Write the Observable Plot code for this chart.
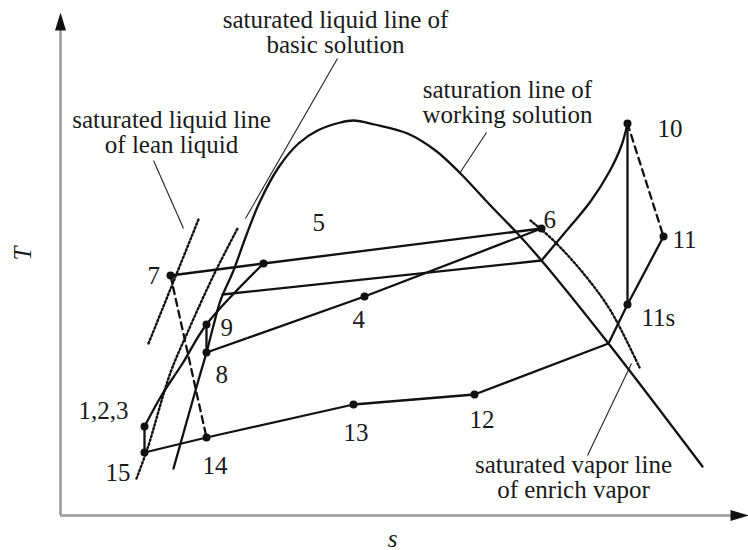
<!DOCTYPE html>
<html>
<head>
<meta charset="utf-8">
<script src="https://cdn.jsdelivr.net/npm/d3@7"></script>
<script src="https://cdn.jsdelivr.net/npm/@observablehq/plot@0.6"></script>
<style>
  html, body { margin: 0; padding: 0; background: #fff; }
  #chart { width: 748px; height: 550px; }
  #chart svg, #chart svg text { font-family: "Liberation Serif", "Times New Roman", serif; }
</style>
</head>
<body>
<div id="chart"></div>
<script>
// T–s diagram of the absorption power cycle (schematic units of entropy s and temperature T).

// State points [s, T]
const p123 = [84, 89];
const p4 = [304, 219];
const p6 = [481, 287];
const p7 = [110, 240];
const p8 = [146, 163];
const p9 = [146, 191];
const p10 = [567, 392];
const p11 = [603, 279];
const p11s = [567, 211];
const p12 = [414, 121];
const p13 = [293, 111];
const p14 = [146, 78];
const p15 = [84, 63];
const pMix = [203, 252];          // mixing point on the 7–6 line
const pCondExit = [548, 172];     // 11 → 12 line meets the saturation line
const pEvapEnd = [481, 255];      // heating line meets the saturation line
const pEvapStart = [162, 221];

const dotPoints = [p123, p4, p6, p7, p8, p9, p10, p11, p11s, p12, p13, p14, p15, pMix];

// Saturation line of working solution
const saturationDome = [
  [113, 47], [137, 132], [146, 163], [153, 190], [160, 215], [173, 245], [185, 278],
  [199, 313], [218, 348], [238, 372], [257, 385], [280, 393], [293, 395], [314, 391],
  [347, 382], [375, 365], [399, 343], [430, 310], [457, 282], [481, 255], [548, 172], [642, 49]
];
// Saturated liquid line of basic solution
const basicLiquidLine = [[76, 37], [87, 67], [110, 143], [127, 183], [153, 240], [177, 287]];
// Saturated liquid line of lean liquid
const leanLiquidLine = [[88, 172], [138, 296]];
// Saturated vapor line of enrich vapor
const enrichVaporLine = [[470, 295], [493, 275], [523, 242], [550, 205], [579, 148]];
// Superheating from the saturation line up to 10
const superheatLine = [pEvapEnd, [502, 280], [530, 314], [549, 344], [561, 370], p10];
// Basic solution heating 1,2,3 → 9 → mixing point
const basicHeating = [p123, [101, 120], [122, 152], p9, pMix];

const solidPaths = [
  [p7, pMix, p6],
  [p8, p4, p6],
  [p10, p11s],
  [p11, p11s, pCondExit, p12, p13, p14, p15, p123],
  [p9, p8],
  [pEvapStart, pEvapEnd]
];
const dashedPaths = [[p7, p14], [p10, p11]];

// Annotation leaders: [s1, T1, s2, T2]
const leaders = [
  [93, 355, 123, 287],
  [277, 457, 185, 297],
  [426, 383, 399, 342],
  [571, 152, 527, 60]
];

const curveNotes = [
  {text: "saturated liquid line of\nbasic solution", s: 275, T: 463},
  {text: "saturated liquid line\nof lean liquid", s: 111, T: 363},
  {text: "saturation line of\nworking solution", s: 447, T: 393},
  {text: "saturated vapor line\nof enrich vapor", s: 513, T: 18}
];

const pointLabels = [
  {text: "10", s: 597, T: 379},
  {text: "11", s: 612, T: 268},
  {text: "6", s: 483, T: 288},
  {text: "11s", s: 581, T: 190},
  {text: "5", s: 252, T: 285},
  {text: "4", s: 292, T: 188},
  {text: "7", s: 87, T: 232},
  {text: "9", s: 160, T: 180},
  {text: "8", s: 155, T: 133},
  {text: "1,2,3", s: 18, T: 97},
  {text: "15", s: 45, T: 35},
  {text: "14", s: 142, T: 42},
  {text: "13", s: 283, T: 75},
  {text: "12", s: 409, T: 88}
];

const axisLabels = [
  {text: "T", s: -38, T: 262, rotate: -90},
  {text: "s", s: 332, T: -23, rotate: 0}
];

const ink = "#111";
const serif = "Liberation Serif, Times New Roman, serif";

// Filled arrowhead with its tip at the anchor point, pointing up
const arrowHead = {
  draw(context) {
    context.moveTo(0, 0);
    context.lineTo(-5.5, 18);
    context.lineTo(5.5, 18);
    context.closePath();
  }
};

const xy = {x: (d) => d[0], y: (d) => d[1]};
const dotted = {stroke: ink, strokeWidth: 2.4, strokeDasharray: "1.6,2.4"};

const chart = Plot.plot({
  width: 748,
  height: 550,
  marginLeft: 60,
  marginRight: 0,
  marginTop: 12,
  marginBottom: 35,
  x: {domain: [0, 688], axis: null},
  y: {domain: [0, 503], axis: null},
  style: {background: "#fff", overflow: "visible"},
  marks: [
    // axes
    Plot.ruleX([0], {y1: 0, y2: 490, stroke: "#999", strokeWidth: 2.5}),
    Plot.ruleY([0], {x1: 0, x2: 676, stroke: "#999", strokeWidth: 2.5}),
    Plot.dot([[0, 503]], {...xy, symbol: arrowHead, fill: ink, stroke: "none"}),
    Plot.dot([[688, 0]], {...xy, symbol: arrowHead, fill: ink, stroke: "none", rotate: 90}),

    // leaders
    Plot.link(leaders, {x1: (d) => d[0], y1: (d) => d[1], x2: (d) => d[2], y2: (d) => d[3], stroke: "#222", strokeWidth: 1.1}),

    // reference saturation lines
    Plot.line(saturationDome, {...xy, curve: "catmull-rom", stroke: ink, strokeWidth: 2.3}),
    Plot.line(basicLiquidLine, {...xy, curve: "catmull-rom", ...dotted}),
    Plot.line(leanLiquidLine, {...xy, ...dotted}),
    Plot.line(enrichVaporLine, {...xy, curve: "catmull-rom", ...dotted}),

    // process lines
    Plot.line(superheatLine, {...xy, curve: "catmull-rom", stroke: ink, strokeWidth: 2.3}),
    Plot.line(basicHeating, {...xy, curve: "catmull-rom", stroke: ink, strokeWidth: 2.3}),
    ...solidPaths.map((path) => Plot.line(path, {...xy, stroke: ink, strokeWidth: 2.3})),
    ...dashedPaths.map((path) => Plot.line(path, {...xy, stroke: ink, strokeWidth: 2.3, strokeDasharray: "7,5"})),

    // state points
    Plot.dot(dotPoints, {...xy, r: 4, fill: ink, stroke: "none"}),

    // text
    Plot.text(curveNotes, {x: "s", y: "T", text: "text", textAnchor: "middle", lineAnchor: "bottom",
      lineHeight: 1.0, fontSize: 25, fontFamily: serif, fill: "#1a1a1a"}),
    Plot.text(pointLabels, {x: "s", y: "T", text: "text", textAnchor: "start", lineAnchor: "bottom",
      fontSize: 25, fontFamily: serif, fill: "#1a1a1a"}),
    Plot.text(axisLabels, {x: "s", y: "T", text: "text", rotate: "rotate", textAnchor: "middle",
      lineAnchor: "middle", fontSize: 25, fontFamily: serif, fontStyle: "italic", fill: "#1a1a1a"})
  ]
});

document.getElementById("chart").appendChild(chart);
</script>
</body>
</html>
